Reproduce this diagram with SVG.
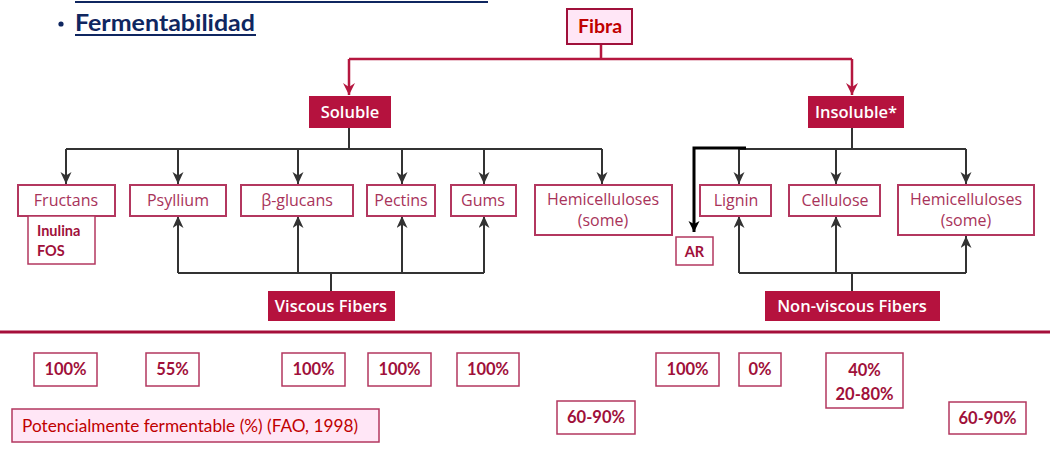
<svg xmlns="http://www.w3.org/2000/svg" width="1050" height="451" viewBox="0 0 1050 451">
<defs>
<marker id="arR" markerWidth="14" markerHeight="14" refX="12" refY="6" orient="auto" markerUnits="userSpaceOnUse"><path d="M0,0 L12,6 L0,12 L4,6 z" fill="#B5173F"/></marker>
<marker id="arK" markerWidth="14" markerHeight="14" refX="12" refY="5.5" orient="auto" markerUnits="userSpaceOnUse"><path d="M0,0 L12,5.5 L0,11 L3.5,5.5 z" fill="#333"/></marker>
<marker id="arB" markerWidth="14" markerHeight="14" refX="11" refY="5.5" orient="auto" markerUnits="userSpaceOnUse"><path d="M0,0 L11,5.5 L0,11 L3,5.5 z" fill="#000"/></marker>
</defs>
<style>
.cat{fill:#B5123E}
.cattx{font-family:"Open Sans","Noto Sans",sans-serif;font-size:16.5px;fill:#fff;text-anchor:middle;font-weight:600}
.box{fill:#fff;stroke:#B3375F;stroke-width:2}
.boxtx{font-family:"Open Sans","Noto Sans",sans-serif;font-size:16px;fill:#A8335A;text-anchor:middle}
.pbox{fill:#fff;stroke:#B3375F;stroke-width:1.5}
.ptx{font-family:Lato,"Liberation Sans",sans-serif;font-size:16.5px;font-weight:bold;fill:#A0103A;text-anchor:middle}
.stx{font-family:Lato,"Liberation Sans",sans-serif;font-size:14.5px;font-weight:bold;fill:#A0103A}
.red{fill:none;stroke:#B5173F;stroke-width:2.5}
.blk{fill:none;stroke:#333;stroke-width:2}
</style>
<g id="title">
<line x1="75" y1="2" x2="488" y2="2" stroke="#0F2660" stroke-width="2"/>
<circle cx="61" cy="24" r="2.6" fill="#0F2660"/>
<text x="75" y="31" font-family="Lato,'Liberation Sans',sans-serif" font-size="22" font-weight="bold" fill="#0F2660" textLength="180" lengthAdjust="spacingAndGlyphs">Fermentabilidad</text>
<line x1="75" y1="35" x2="256" y2="35" stroke="#0F2660" stroke-width="2"/>
</g>
<g id="connectors">
<path class="red" d="M601,44 V59 M349,59 H852"/>
<path class="red" d="M349,59 V95" marker-end="url(#arR)"/>
<path class="red" d="M852,59 V95" marker-end="url(#arR)"/>
<path class="blk" d="M349,128 V149 M66,149 H602"/>
<path class="blk" d="M66,149 V184" marker-end="url(#arK)"/>
<path class="blk" d="M178,149 V184" marker-end="url(#arK)"/>
<path class="blk" d="M298,149 V184" marker-end="url(#arK)"/>
<path class="blk" d="M402,149 V184" marker-end="url(#arK)"/>
<path class="blk" d="M484,149 V184" marker-end="url(#arK)"/>
<path class="blk" d="M602,149 V184" marker-end="url(#arK)"/>
<path class="blk" d="M852,128 V149 M739,149 H966"/>
<path class="blk" d="M739,149 V184" marker-end="url(#arK)"/>
<path class="blk" d="M836,149 V184" marker-end="url(#arK)"/>
<path class="blk" d="M966,149 V184" marker-end="url(#arK)"/>
<path class="blk" d="M331,291 V273 M178,273 H484"/>
<path class="blk" d="M178,273 V216" marker-end="url(#arK)"/>
<path class="blk" d="M298,273 V216" marker-end="url(#arK)"/>
<path class="blk" d="M402,273 V216" marker-end="url(#arK)"/>
<path class="blk" d="M484,273 V216" marker-end="url(#arK)"/>
<path class="blk" d="M852,291 V273 M739,273 H966"/>
<path class="blk" d="M739,273 V216" marker-end="url(#arK)"/>
<path class="blk" d="M836,273 V216" marker-end="url(#arK)"/>
<path class="blk" d="M966,273 V236" marker-end="url(#arK)"/>
<path d="M746,148 H694 V232" fill="none" stroke="#000" stroke-width="3" marker-end="url(#arB)"/>
</g>
<line x1="0" y1="332" x2="1050" y2="332" stroke="#A50E3A" stroke-width="3"/>
<g id="fibra"><rect x="567" y="9" width="65" height="35" fill="#FFE6F6" stroke="#A0103A" stroke-width="2"/><text x="600" y="33" font-family="Lato,'Liberation Sans',sans-serif" font-size="19.5" font-weight="bold" fill="#C00000" text-anchor="middle">Fibra</text></g>
<g id="soluble"><rect class="cat" x="309" y="96" width="82" height="32"/><text class="cattx" x="350" y="118">Soluble</text></g>
<g id="insoluble"><rect class="cat" x="808" y="96" width="96" height="32"/><text class="cattx" x="856" y="118">Insoluble*</text></g>
<g id="fructans"><rect class="box" x="18" y="185" width="97" height="31"/><text class="boxtx" x="66" y="206">Fructans</text></g>
<g id="inulina"><rect x="28" y="216" width="67" height="48" fill="#fff" stroke="#B3375F" stroke-width="1.5"/><text class="stx" x="37" y="236">Inulina</text><text class="stx" x="37" y="256">FOS</text></g>
<g id="psyllium"><rect class="box" x="130" y="185" width="96" height="31"/><text class="boxtx" x="178" y="206">Psyllium</text></g>
<g id="bglucans"><rect class="box" x="241" y="185" width="112" height="31"/><text class="boxtx" x="297" y="206">β-glucans</text></g>
<g id="pectins"><rect class="box" x="367" y="185" width="68" height="31"/><text class="boxtx" x="401" y="206">Pectins</text></g>
<g id="gums"><rect class="box" x="451" y="185" width="65" height="31"/><text class="boxtx" x="483" y="206">Gums</text></g>
<g id="hemi1"><rect class="box" x="535" y="185" width="137" height="50"/><text class="boxtx" x="603" y="205">Hemicelluloses</text><text class="boxtx" x="603" y="226">(some)</text></g>
<g id="ar"><rect x="676" y="237" width="37" height="28" fill="#fff" stroke="#B3375F" stroke-width="1.5"/><text class="stx" x="694.5" y="257" text-anchor="middle">AR</text></g>
<g id="lignin"><rect class="box" x="700" y="185" width="71" height="31"/><text class="boxtx" x="736" y="206">Lignin</text></g>
<g id="cellulose"><rect class="box" x="789" y="185" width="91" height="31"/><text class="boxtx" x="835" y="206">Cellulose</text></g>
<g id="hemi2"><rect class="box" x="898" y="185" width="136" height="50"/><text class="boxtx" x="966" y="205">Hemicelluloses</text><text class="boxtx" x="966" y="226">(some)</text></g>
<g id="viscous"><rect class="cat" x="268" y="291" width="127" height="30"/><text class="cattx" x="331" y="312">Viscous Fibers</text></g>
<g id="nonviscous"><rect class="cat" x="765" y="291" width="175" height="30"/><text class="cattx" x="852" y="312">Non-viscous Fibers</text></g>
<g id="p1"><rect class="pbox" x="34" y="353" width="63" height="33"/><text class="ptx" x="65.5" y="375">100%</text></g>
<g id="p2"><rect class="pbox" x="146" y="353" width="53" height="33"/><text class="ptx" x="172.5" y="375">55%</text></g>
<g id="p3"><rect class="pbox" x="282" y="353" width="63" height="33"/><text class="ptx" x="313.5" y="375">100%</text></g>
<g id="p4"><rect class="pbox" x="368" y="353" width="63" height="33"/><text class="ptx" x="399.5" y="375">100%</text></g>
<g id="p5"><rect class="pbox" x="457" y="353" width="62" height="33"/><text class="ptx" x="488" y="375">100%</text></g>
<g id="p6"><rect class="pbox" x="557" y="401" width="78" height="33"/><text class="ptx" x="596" y="423">60-90%</text></g>
<g id="p7"><rect class="pbox" x="656" y="353" width="63" height="33"/><text class="ptx" x="687.5" y="375">100%</text></g>
<g id="p8"><rect class="pbox" x="739" y="353" width="42" height="33"/><text class="ptx" x="760" y="375">0%</text></g>
<g id="p9"><rect class="pbox" x="826" y="353" width="77" height="55"/><text class="ptx" x="864.5" y="376">40%</text><text class="ptx" x="864.5" y="400">20-80%</text></g>
<g id="p10"><rect class="pbox" x="949" y="402" width="77" height="32"/><text class="ptx" x="987.5" y="424">60-90%</text></g>
<g id="legend"><rect x="12" y="409" width="367" height="33" fill="#FFE6F6" stroke="#B3375F" stroke-width="1.5"/><text x="22" y="432" font-family="Lato,'Liberation Sans',sans-serif" font-size="16.5" fill="#C00000" textLength="336" lengthAdjust="spacingAndGlyphs">Potencialmente fermentable (%) (FAO, 1998)</text></g>
</svg>
